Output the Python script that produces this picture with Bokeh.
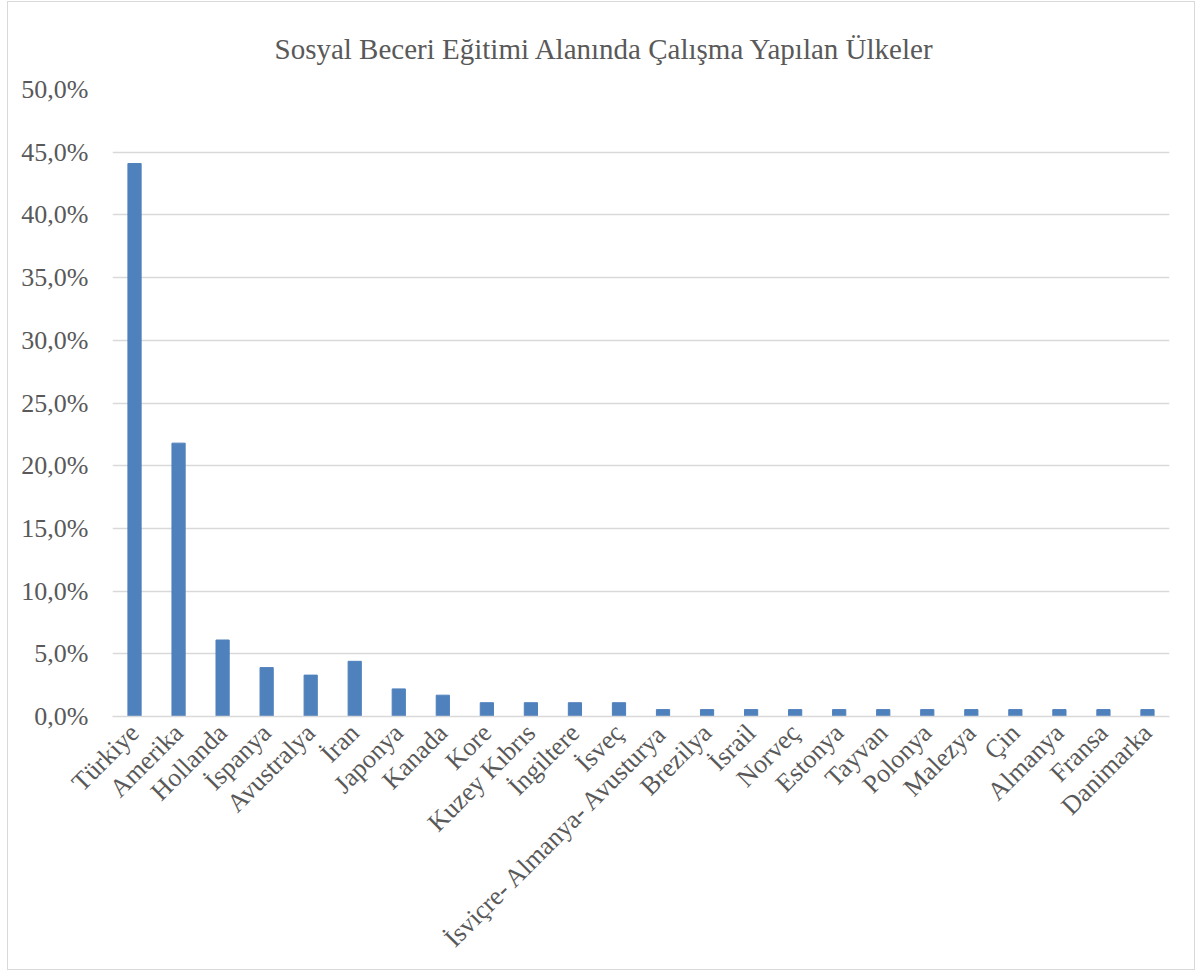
from bokeh.plotting import figure
from bokeh.models import FactorRange, Range1d, FixedTicker, CustomJSTickFormatter
from bokeh.embed import file_html
from bokeh.resources import INLINE
import math

countries = ["Türkiye", "Amerika", "Hollanda", "İspanya", "Avustralya", "İran", "Japonya",
             "Kanada", "Kore", "Kuzey Kıbrıs", "İngiltere", "İsveç",
             "İsviçre- Almanya- Avusturya", "Brezilya", "İsrail", "Norveç", "Estonya",
             "Tayvan", "Polonya", "Malezya", "Çin", "Almanya", "Fransa", "Danimarka"]
shares = [44.1, 21.8, 6.1, 3.9, 3.3, 4.4, 2.2, 1.7, 1.1, 1.1, 1.1, 1.1,
          0.55, 0.55, 0.55, 0.55, 0.55, 0.55, 0.55, 0.55, 0.55, 0.55, 0.55, 0.55]
y_ticks = [0, 5, 10, 15, 20, 25, 30, 35, 40, 45, 50]
title_text = "Sosyal Beceri Eğitimi Alanında Çalışma Yapılan Ülkeler"

FONT = "Liberation Serif"
TXT = "#595959"
GRID = "#d9d9d9"

p = figure(width=1188, height=969, x_range=FactorRange(*countries), y_range=Range1d(0, 50),
           output_backend="svg", toolbar_location=None, title=title_text,
           min_border_left=104, min_border_right=27, min_border_top=87, min_border_bottom=255)
p.margin = (1, 0, 0, 7)
p.styles = {"border": "1px solid #d9d9d9"}
p.outline_line_color = None

p.vbar(x=countries, top=shares, width=0.3, color="#4f81bd")

p.title.text_font = FONT
p.title.text_font_size = "29px"
p.title.text_font_style = "normal"
p.title.text_color = TXT
p.title.align = "left"
p.title.offset = 162
p.title.standoff = 50

p.yaxis.ticker = FixedTicker(ticks=y_ticks)
p.yaxis.formatter = CustomJSTickFormatter(code="return tick.toFixed(1).replace('.', ',') + '%';")
p.yaxis.axis_line_color = None
p.yaxis.major_tick_line_color = None
p.yaxis.minor_tick_line_color = None
p.yaxis.major_label_text_font = FONT
p.yaxis.major_label_text_font_size = "26px"
p.yaxis.major_label_text_color = TXT
p.yaxis.major_label_standoff = 18

p.xaxis.axis_line_color = GRID
p.xaxis.axis_line_width = 1.5
p.xaxis.major_tick_line_color = None
p.xaxis.minor_tick_line_color = None
p.xaxis.major_label_orientation = math.pi / 4
p.xaxis.major_label_text_font = FONT
p.xaxis.major_label_text_font_size = "26px"
p.xaxis.major_label_text_color = TXT
p.xaxis.major_label_standoff = 6

p.xgrid.grid_line_color = None
p.ygrid.grid_line_color = GRID
p.ygrid.grid_line_width = 1.5

open("out.html", "w").write(file_html(p, INLINE))
